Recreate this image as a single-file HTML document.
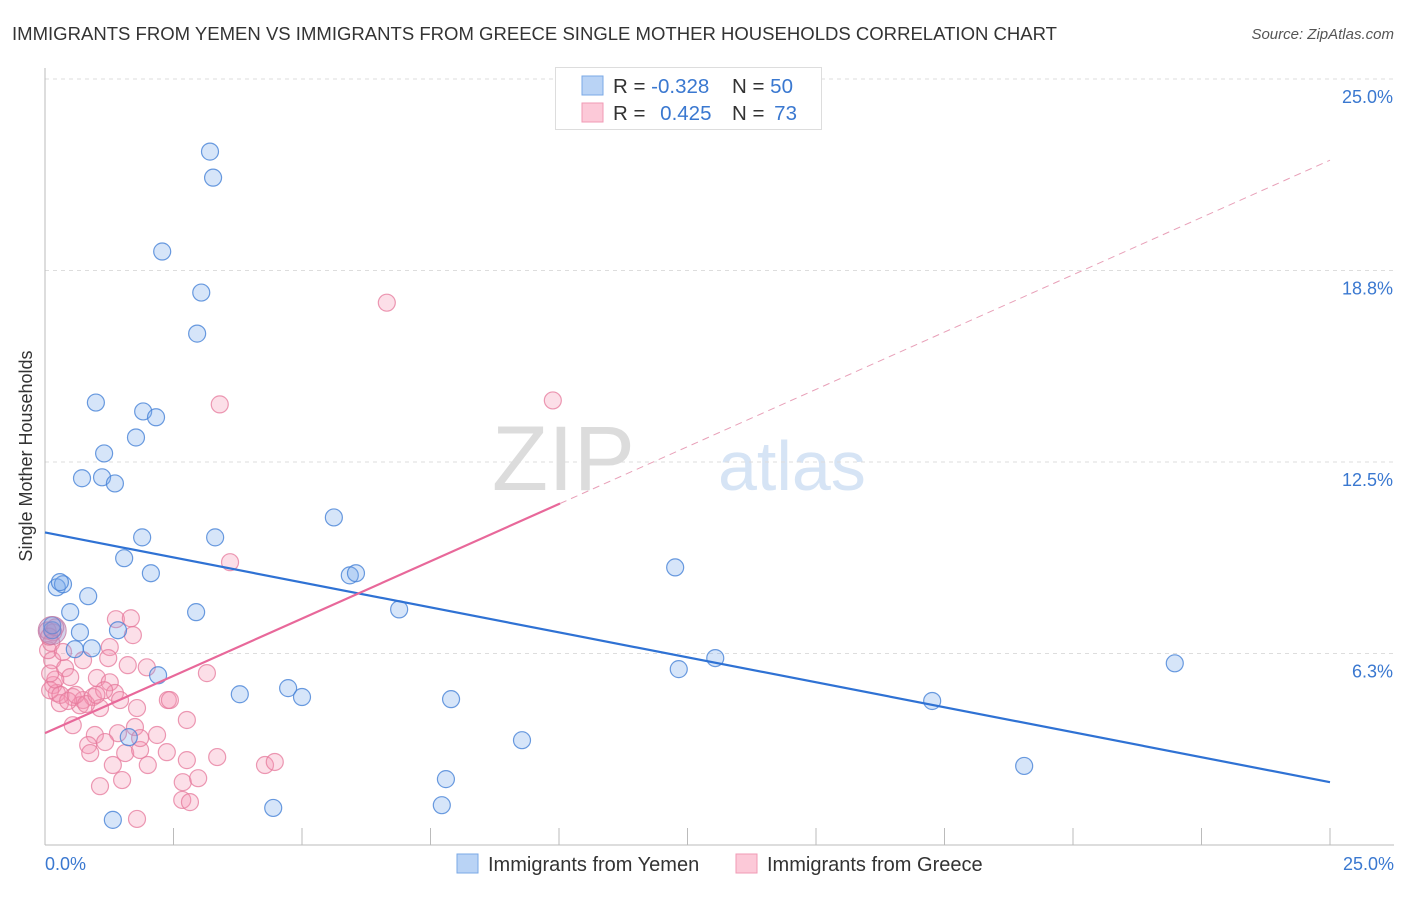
<!DOCTYPE html>
<html><head><meta charset="utf-8">
<style>
body{margin:0;background:#fff;font-family:"Liberation Sans",sans-serif;}
svg text{font-family:"Liberation Sans",sans-serif;}
</style></head>
<body>
<svg id="chart" width="1406" height="892" viewBox="0 0 1406 892">
<text x="12" y="40" font-size="18" fill="#333" textLength="1045" lengthAdjust="spacingAndGlyphs">IMMIGRANTS FROM YEMEN VS IMMIGRANTS FROM GREECE SINGLE MOTHER HOUSEHOLDS CORRELATION CHART</text>
<text x="1394" y="39" font-size="15" fill="#555" text-anchor="end" font-style="italic">Source: ZipAtlas.com</text>
<text x="635" y="490" font-size="92" fill="#dcdcdc" text-anchor="end" font-family="Liberation Serif">ZIP</text>
<text x="718" y="490" font-size="70" fill="#d6e4f5">atlas</text>
<g id="grid"></g>
<g id="axes"></g>
<g id="points"></g>
<g id="trends"></g>
<text x="-456" y="32" font-size="18" fill="#333" text-anchor="middle" transform="rotate(-90)">Single Mother Households</text>
<text x="45" y="870" font-size="18" fill="#3a78d0">0.0%</text>
<text x="1394" y="870" font-size="18" fill="#3a78d0" text-anchor="end">25.0%</text>
<g>
<rect x="555.5" y="67.5" width="266" height="62" fill="#fff" stroke="#ddd"/>
<rect x="582" y="76" width="21" height="19" fill="#b9d3f5" stroke="#7aa8e6"/>
<rect x="582" y="103" width="21" height="19" fill="#fcc9d8" stroke="#f09ab5"/>
<text x="613" y="93" font-size="20.5" fill="#333">R = <tspan fill="#3a78d0">-0.328</tspan></text>
<text x="732" y="93" font-size="20.5" fill="#333">N = <tspan fill="#3a78d0">50</tspan></text>
<text x="613" y="120" font-size="20.5" fill="#333">R = <tspan fill="#3a78d0" dx="9">0.425</tspan></text>
<text x="732" y="120" font-size="20.5" fill="#333">N = <tspan fill="#3a78d0" dx="4">73</tspan></text>
</g>
<g>
<rect x="457" y="854" width="21" height="19" fill="#b9d3f5" stroke="#7aa8e6"/>
<text x="488" y="871" font-size="20" fill="#333">Immigrants from Yemen</text>
<rect x="736" y="854" width="21" height="19" fill="#fcc9d8" stroke="#f09ab5"/>
<text x="767" y="871" font-size="20" fill="#333">Immigrants from Greece</text>
</g>
</svg>
<script>
const yTicks=[6.25,12.5,18.75,25];
const yTickLabels=["6.3%","12.5%","18.8%","25.0%"];
const xTicks=[0,2.5,5,7.5,10,12.5,15,17.5,20,22.5,25];
const yemenX=[3.21,3.27,2.28,3.04,2.96,0.99,1.91,2.16,1.77,1.15,0.72,1.11,1.36,5.62,1.89,3.31,1.54,2.06,5.93,6.05,12.26,0.23,0.35,0.84,0.49,2.94,6.89,1.42,0.68,0.14,0.58,0.91,2.20,3.79,4.73,5.00,7.90,12.33,13.04,21.98,17.26,19.05,9.28,7.80,7.72,4.44,1.32,1.63,0.14,0.29];
const yemenY=[22.63,21.78,19.37,18.03,16.69,14.44,14.15,13.96,13.30,12.78,11.97,12.00,11.80,10.69,10.04,10.04,9.36,8.87,8.80,8.87,9.06,8.41,8.51,8.12,7.60,7.60,7.69,7.01,6.94,7.01,6.39,6.42,5.54,4.92,5.12,4.83,4.76,5.74,6.10,5.93,4.70,2.58,3.42,2.15,1.30,1.21,0.82,3.52,7.17,8.58];
const greeceX=[1.38,1.67,1.71,1.26,1.23,0.74,0.16,0.14,0.39,1.98,3.15,1.01,1.26,0.49,0.16,0.23,0.54,0.74,0.93,1.36,1.07,0.29,2.39,1.79,2.76,0.54,0.97,1.42,1.75,2.18,0.84,1.17,0.88,1.56,1.85,2.37,1.32,2.00,2.76,3.35,4.28,4.47,1.07,1.50,2.68,2.98,2.67,2.82,1.79,3.60,6.65,3.40,9.88,0.06,0.10,0.68,1.61,1.15,1.46,1.85,2.43,0.05,0.12,0.20,0.30,0.45,0.60,0.10,0.35,0.80,1.00,0.20,0.08];
const greeceY=[7.37,7.40,6.85,6.46,6.10,6.03,6.94,6.03,5.77,5.80,5.61,5.45,5.31,5.48,5.22,4.96,4.83,4.73,4.83,4.96,4.47,4.63,4.73,4.47,4.08,3.91,3.59,3.65,3.85,3.59,3.26,3.36,3.00,3.00,3.10,3.03,2.61,2.61,2.77,2.87,2.61,2.71,1.92,2.12,2.05,2.18,1.47,1.40,0.85,9.23,17.70,14.38,14.51,6.36,5.05,4.56,5.87,5.05,4.73,3.49,4.73,7.0,6.6,5.4,4.9,4.7,4.9,5.6,6.3,4.6,4.9,7.1,6.8];
const yemenTrend=[10.2,2.05];
const greeceTrend=[3.65,22.35];
const greeceSolidEnd=10.02;
const X0=45,X1=1330,Y0=845,Y1=79;
const sx=v=>X0+(X1-X0)*v/25;
const sy=v=>Y0-(Y0-Y1)*v/25;
const NS="http://www.w3.org/2000/svg";
function mk(tag,attrs,parent){const e=document.createElementNS(NS,tag);for(const k in attrs)e.setAttribute(k,attrs[k]);parent.appendChild(e);return e;}
const grid=document.getElementById('grid'),axes=document.getElementById('axes'),pts=document.getElementById('points'),tr=document.getElementById('trends');
yTicks.forEach((t,i)=>{
  const l=mk('line',{x1:X0,x2:1394,y1:sy(t),y2:sy(t),stroke:'#ddd','stroke-dasharray':'4,4'},grid);
  
  
  const tx=mk('text',{x:1393,y:sy(t)+24,'font-size':18,fill:'#3a78d0','text-anchor':'end'},axes);
  tx.textContent=yTickLabels[i];
  
  
});
const ya=mk('line',{x1:X0,x2:X0,y1:68,y2:Y0,stroke:'#bbb'},axes);


const xa=mk('line',{x1:X0,x2:1394,y1:Y0,y2:Y0,stroke:'#bbb'},axes);


xTicks.forEach(t=>{
  const l=mk('line',{x1:sx(t),x2:sx(t),y1:Y0,y2:Y0-17,stroke:'#bbb'},axes);
  
  
});
greeceX.forEach((v,i)=>{
  const c=mk('circle',{cx:sx(v),cy:sy(greeceY[i]),r:8.5,fill:'rgba(245,150,180,0.3)',stroke:'rgba(230,120,155,0.75)','stroke-width':1.2},pts);
  
  
});
yemenX.forEach((v,i)=>{
  const c=mk('circle',{cx:sx(v),cy:sy(yemenY[i]),r:8.5,fill:'rgba(120,170,235,0.3)',stroke:'rgba(70,130,215,0.8)','stroke-width':1.2},pts);
  
  
});
const big=mk('circle',{cx:sx(0.14),cy:sy(7.0),r:14,fill:'rgba(150,140,200,0.4)',stroke:'rgba(200,120,160,0.8)'},pts);


const bt=mk('line',{x1:sx(0),y1:sy(yemenTrend[0]),x2:sx(25),y2:sy(yemenTrend[1]),stroke:'#2f72d4','stroke-width':2.2},tr);


const gmid=greeceTrend[0]+(greeceTrend[1]-greeceTrend[0])*greeceSolidEnd/25;
const gt=mk('line',{x1:sx(0),y1:sy(greeceTrend[0]),x2:sx(greeceSolidEnd),y2:sy(gmid),stroke:'#e8689a','stroke-width':2.2},tr);


const gd=mk('line',{x1:sx(greeceSolidEnd),y1:sy(gmid),x2:sx(25),y2:sy(greeceTrend[1]),stroke:'#e8a0b8','stroke-width':1,'stroke-dasharray':'7,5'},tr);


</script>
</body></html>
